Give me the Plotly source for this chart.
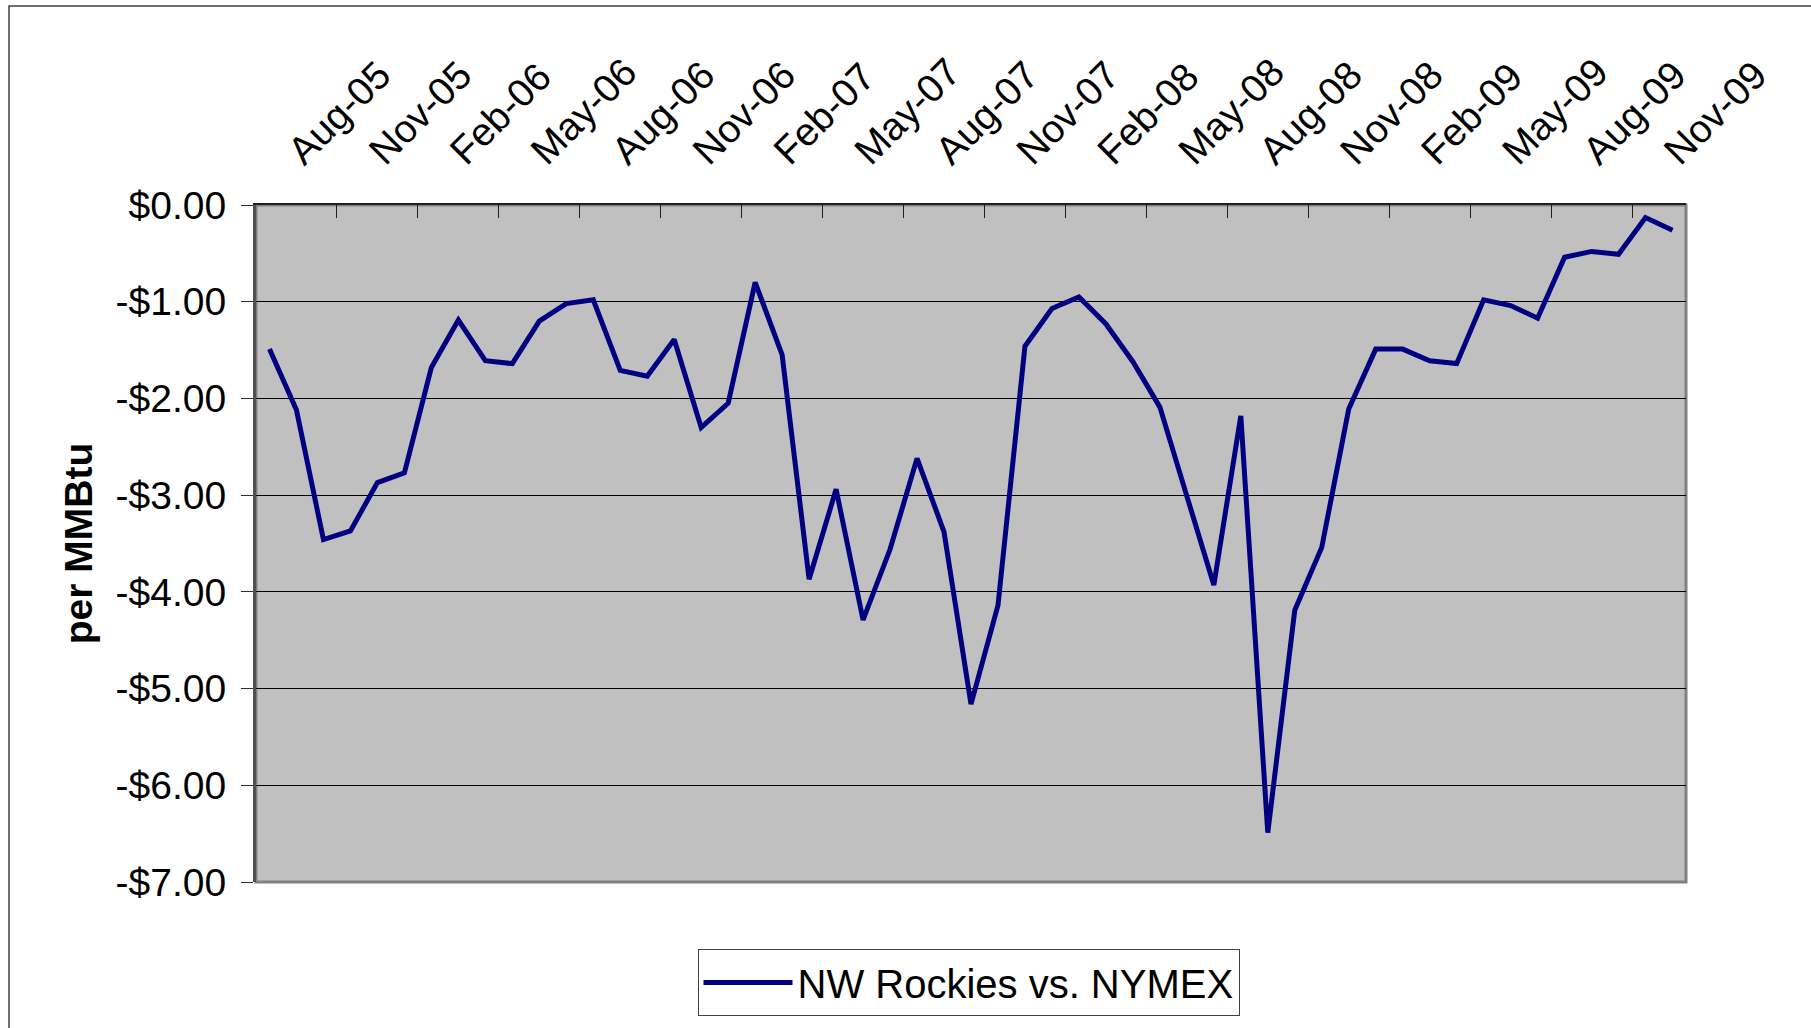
import plotly.graph_objects as go

months = ["Aug-05", "Sep-05", "Oct-05", "Nov-05", "Dec-05", "Jan-06", "Feb-06", "Mar-06",
          "Apr-06", "May-06", "Jun-06", "Jul-06", "Aug-06", "Sep-06", "Oct-06", "Nov-06",
          "Dec-06", "Jan-07", "Feb-07", "Mar-07", "Apr-07", "May-07", "Jun-07", "Jul-07",
          "Aug-07", "Sep-07", "Oct-07", "Nov-07", "Dec-07", "Jan-08", "Feb-08", "Mar-08",
          "Apr-08", "May-08", "Jun-08", "Jul-08", "Aug-08", "Sep-08", "Oct-08", "Nov-08",
          "Dec-08", "Jan-09", "Feb-09", "Mar-09", "Apr-09", "May-09", "Jun-09", "Jul-09",
          "Aug-09", "Sep-09", "Oct-09", "Nov-09", "Dec-09"]

basis = [-1.49, -2.12, -3.46, -3.37, -2.87, -2.77, -1.68, -1.19, -1.61, -1.64,
         -1.20, -1.02, -0.98, -1.71, -1.77, -1.39, -2.30, -2.05, -0.80, -1.55,
         -3.87, -2.94, -4.29, -3.56, -2.62, -3.38, -5.16, -4.14, -1.46, -1.07,
         -0.95, -1.23, -1.62, -2.09, -3.01, -3.93, -2.18, -6.49, -4.19, -3.54,
         -2.11, -1.49, -1.49, -1.61, -1.64, -0.98, -1.04, -1.17, -0.54, -0.48,
         -0.51, -0.13, -0.26]

y_tickvals = [0, -1, -2, -3, -4, -5, -6, -7]
y_ticktext = ["$0.00", "-$1.00", "-$2.00", "-$3.00", "-$4.00", "-$5.00", "-$6.00", "-$7.00"]

series_name = "NW Rockies vs. NYMEX"
y_title = "per MMBtu"

FONT = "Arial, 'Liberation Sans', sans-serif"

W, H = 1811, 1028
L, R, T, B = 256, 125, 205, 146
pw, ph = W - L - R, H - T - B

fig = go.Figure()
fig.add_trace(go.Scatter(
    x=months, y=basis, mode="lines", name=series_name,
    line=dict(color="#000080", width=5),
))

fig.update_layout(
    width=W, height=H,
    margin=dict(l=L, r=R, t=T, b=B, pad=0),
    paper_bgcolor="white",
    plot_bgcolor="#C0C0C0",
    font=dict(family=FONT, color="black"),
    showlegend=True,
    legend=dict(
        orientation="h", x=(968.5 - L) / pw, xanchor="center",
        y=(-(949 - (T + ph)) / ph), yanchor="top",
        bordercolor="#404040", borderwidth=1, bgcolor="white",
        itemwidth=89,
        font=dict(size=40, family=FONT),
    ),
    xaxis=dict(
        type="category", side="top", range=[-0.5, len(months) - 0.5],
        tickmode="linear", tick0=0, dtick=3, tickson="boundaries",
        ticks="inside", ticklen=13, tickcolor="#202020", tickwidth=1,
        tickangle=-45, tickfont=dict(size=39, family=FONT),
        ticklabelstandoff=15, ticklabelshift=21,
        showgrid=False, showline=True, linecolor="#202020", linewidth=2,
        zeroline=False, automargin=False,
    ),
    yaxis=dict(
        range=[-7, 0], tickvals=y_tickvals, ticktext=y_ticktext,
        ticks="outside", ticklen=12, tickcolor="#303030", tickwidth=1,
        tickfont=dict(size=39, family=FONT), ticklabelstandoff=7,
        showgrid=True, gridcolor="black", gridwidth=1,
        showline=True, linecolor="#505050", linewidth=3,
        zeroline=False, automargin=False,
        title=dict(text="<b>" + y_title + "</b>", font=dict(size=39, family=FONT), standoff=11),
    ),
)

# plot area frame (gray) and outer chart border
fig.add_shape(type="rect", xref="paper", yref="paper", x0=0, y0=0, x1=1, y1=1,
              line=dict(color="#808080", width=3), layer="below")
fig.add_shape(type="rect", xref="paper", yref="paper",
              x0=(9 - L) / pw, x1=(W + 5 - L) / pw,
              y0=-(H + 5 - T - ph) / ph, y1=1 + (T - 6) / ph,
              line=dict(color="#404040", width=1.5))

fig.write_html("out.html", config={"displayModeBar": False},
               post_script="document.body.style.margin='0';")
